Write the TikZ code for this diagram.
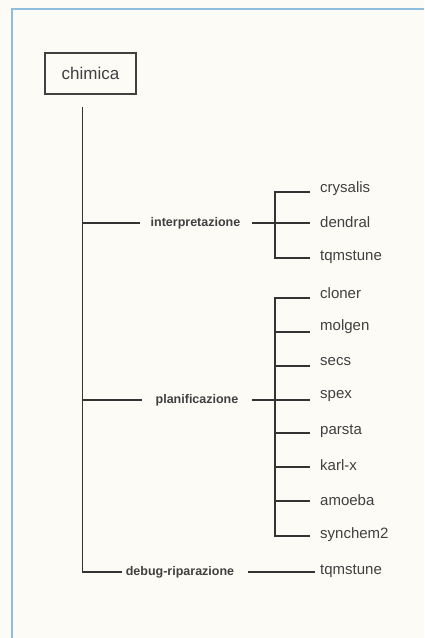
\documentclass[tikz,border=0pt]{standalone}
\usepackage{fontspec}
\setmainfont{Liberation Sans}
\definecolor{framecol}{HTML}{8DBEE0}
\definecolor{paper}{HTML}{FCFBF6}
\begin{document}
\begin{tikzpicture}[x=1pt,y=-1pt,
  ln/.style={draw=black!80, line width=1.25pt},
  leaf/.style={anchor=west, inner sep=0pt, text=black!75, font=\fontsize{15}{15}\selectfont},
  cat/.style={inner sep=0pt, text=black!75, font=\bfseries\fontsize{12.5}{12.5}\selectfont},
  rootbox/.style={draw=black!75, line width=1.2pt, minimum width=91pt, minimum height=41pt, inner sep=0pt, text=black!75, font=\fontsize{17}{17}\selectfont}]
\fill[paper] (0,0) rectangle (424,638);
\useasboundingbox (0,0) rectangle (424,638);
\draw[framecol, line width=2pt] (12,638) -- (12,8.5) -- (424,8.5);

\node[rootbox] (root) at (90.5,73.5) {chimica};
\coordinate (t0) at (82.5,107);
\coordinate (b0) at (82.5,572);

% interpretazione
\node[cat] (interp) at (195.5,223) {interpretazione};
\coordinate (i0) at (82.5,223);
\coordinate (iL) at (140,223);
\coordinate (iR) at (252,223);
\coordinate (i1) at (310,223);
\node[leaf] (crys) at (320,189) {crysalis};
\node[leaf] (dend) at (320,222) {dendral};
\node[leaf] (tqm1) at (320,257) {tqmstune};

% planificazione
\node[cat] (plan) at (197,400) {planificazione};
\coordinate (p0) at (82.5,400);
\coordinate (pL) at (142,400);
\coordinate (pR) at (252,400);
\coordinate (p1) at (310,400);
\node[leaf] (clon) at (320,293) {cloner};
\node[leaf] (molg) at (320,327) {molgen};
\node[leaf] (secs) at (320,362) {secs};
\node[leaf] (spex) at (320,396) {spex};
\node[leaf] (pars) at (320,431) {parsta};
\node[leaf] (karl) at (320,465) {karl-x};
\node[leaf] (amoe) at (320,500) {amoeba};
\node[leaf] (synch) at (320,535) {synchem2};

% debug
\node[cat] (debug) at (180,572) {debug-riparazione};
\coordinate (dL) at (122,572);
\coordinate (dR) at (248,572);
\coordinate (d1) at (315,572);
\node[leaf] (tqm2) at (320,571) {tqmstune};

% main trunk
\draw[ln] (t0) -- (b0) -- (dL);
\draw[ln] (i0) -- (iL);
\draw[ln] (p0) -- (pL);
\draw[ln] (iR) -- (i1);
\draw[ln] (pR) -- (p1);
\draw[ln] (dR) -- (d1);

% interp sub-tree
\draw[ln] (310,192) -- (275,192) -- (275,258) -- (310,258);

% plan sub-tree
\draw[ln] (310,298) -- (275,298) -- (275,536) -- (310,536);
\foreach \y in {332,366,433,467,501} \draw[ln] (275,\y) -- (310,\y);
\end{tikzpicture}
\end{document}
